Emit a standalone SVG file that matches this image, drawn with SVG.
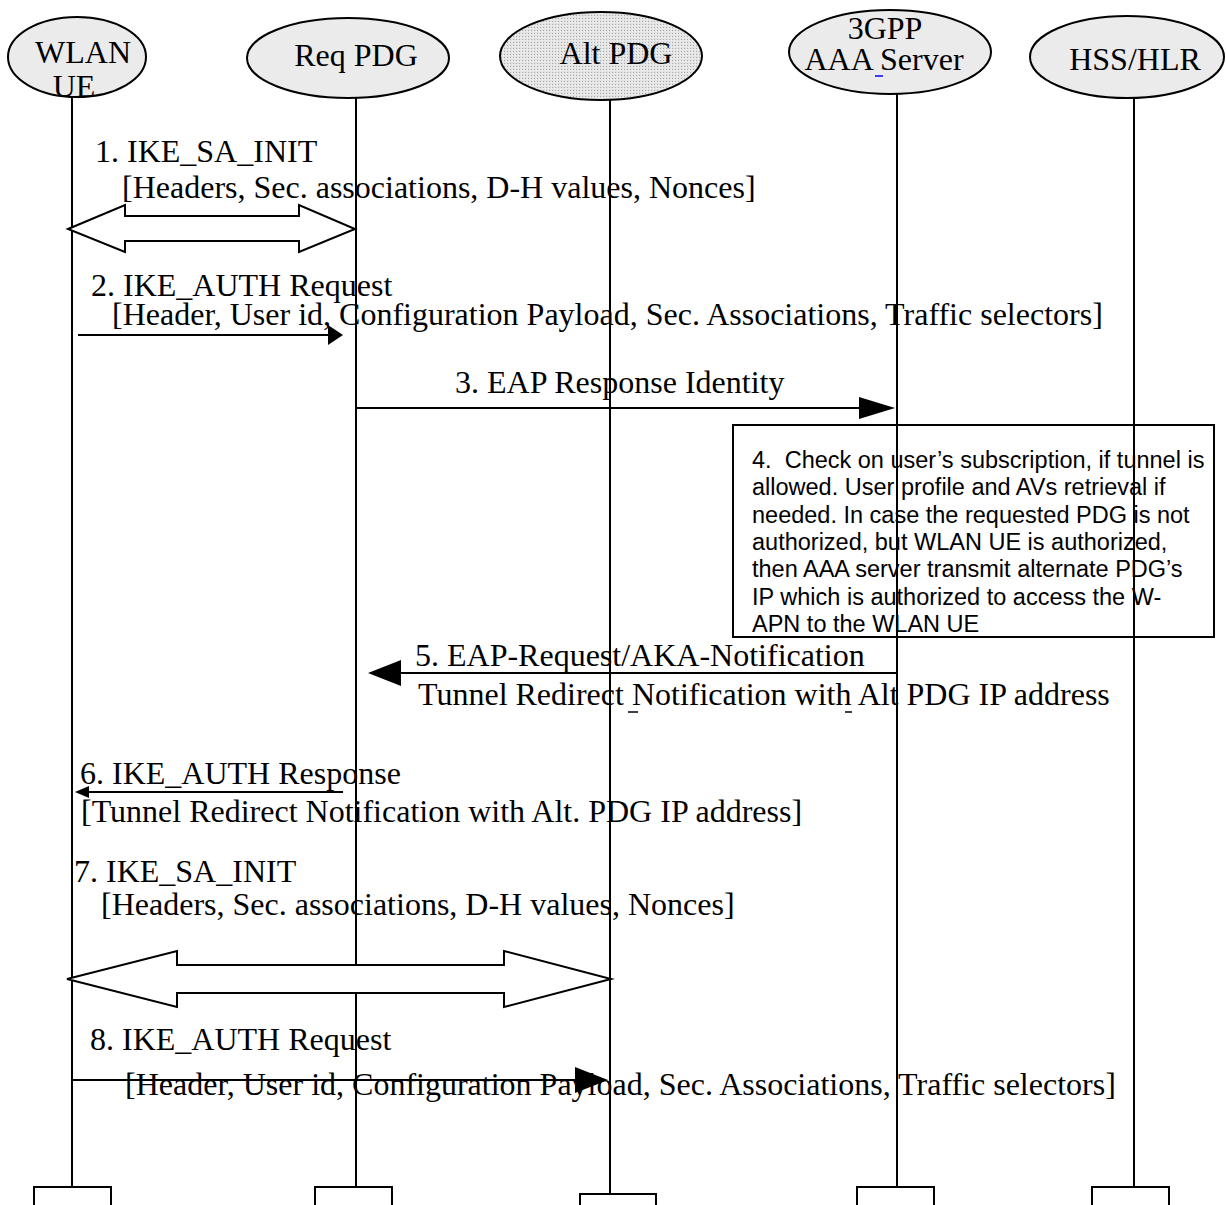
<svg xmlns="http://www.w3.org/2000/svg" width="1226" height="1205" viewBox="0 0 1226 1205">
<style>
.ent{fill:#ebebeb;stroke:#000;stroke-width:2}
.life{stroke:#000;stroke-width:2;fill:none}
.foot{fill:#fff;stroke:#000;stroke-width:2}
.t{font-family:"Liberation Serif","Times New Roman",serif;font-size:32px;fill:#000}
.n{font-family:"Liberation Sans",Arial,sans-serif;font-size:23.5px;fill:#000;white-space:pre}
.msg{stroke:#000;stroke-width:2;fill:none}
.head{fill:#000;stroke:none}
.dbl{fill:#fff;stroke:#000;stroke-width:2;stroke-linejoin:miter}
</style>
<defs>
<pattern id="dots" width="3" height="3" patternUnits="userSpaceOnUse">
<rect width="3" height="3" fill="#e4e4e4"/>
<rect width="1" height="1" fill="#a8a8a8"/>
<rect x="2" y="1" width="1" height="1" fill="#f4f4f4"/>
</pattern>
</defs>
<rect width="1226" height="1205" fill="#fff"/>

<g id="wlan-ue">
<line class="life" x1="72" y1="97" x2="72" y2="1187"/>
<rect class="foot" x="34" y="1187" width="77" height="25"/>
<ellipse class="ent" cx="77" cy="57" rx="69" ry="40"/>
<text class="t" x="83" y="63" text-anchor="middle">WLAN</text>
<text class="t" x="74" y="97" text-anchor="middle">UE</text>
</g>

<g id="req-pdg">
<line class="life" x1="356" y1="98" x2="356" y2="1187"/>
<rect class="foot" x="315" y="1187" width="77" height="25"/>
<ellipse class="ent" cx="348" cy="58" rx="101" ry="40"/>
<text class="t" x="356" y="66" text-anchor="middle">Req PDG</text>
</g>

<g id="alt-pdg">
<line class="life" x1="610" y1="100" x2="610" y2="1194"/>
<rect class="foot" x="580" y="1194" width="76" height="20"/>
<ellipse cx="601" cy="56" rx="101" ry="44" fill="url(#dots)" stroke="#000" stroke-width="2"/>
<text class="t" x="616" y="64" text-anchor="middle" fill="#333">Alt PDG</text>
</g>

<g id="aaa-server">
<line class="life" x1="897" y1="94" x2="897" y2="1187"/>
<rect class="foot" x="857" y="1187" width="77" height="25"/>
<ellipse class="ent" cx="890" cy="52" rx="101" ry="42"/>
<text class="t" x="885" y="39" text-anchor="middle">3GPP</text>
<text class="t" x="884" y="70" text-anchor="middle">AAA Server</text>
<line x1="875" y1="76" x2="883" y2="76" stroke="#0000ff" stroke-width="1.5"/>
</g>

<g id="hss-hlr">
<line class="life" x1="1134" y1="99" x2="1134" y2="1187"/>
<rect class="foot" x="1092" y="1187" width="77" height="25"/>
<ellipse class="ent" cx="1127" cy="57" rx="97" ry="41"/>
<text class="t" x="1135" y="70" text-anchor="middle">HSS/HLR</text>
</g>

<g id="note-4">
<rect x="733" y="425" width="481" height="212" fill="none" stroke="#000" stroke-width="2"/>
<text class="n" x="752" y="468" xml:space="preserve">4.  Check on user’s subscription, if tunnel is</text>
<text class="n" x="752" y="495">allowed. User profile and AVs retrieval if</text>
<text class="n" x="752" y="523">needed. In case the requested PDG is not</text>
<text class="n" x="752" y="550">authorized, but WLAN UE is authorized,</text>
<text class="n" x="752" y="577">then AAA server transmit alternate PDG’s</text>
<text class="n" x="752" y="605">IP which is authorized to access the W-</text>
<text class="n" x="752" y="632">APN to the WLAN UE</text>
</g>

<g id="connectors">
<polygon class="dbl" points="68,229 125,205 125,216 299,216 299,205 355,229 299,252 299,241 125,241 125,252"/>
<line class="msg" x1="78" y1="335" x2="330" y2="335"/>
<polygon class="head" points="343,335 328,325 328,345"/>
<line class="msg" x1="356" y1="408" x2="862" y2="408"/>
<polygon class="head" points="895,408 859,397 859,419"/>
<line class="msg" x1="897" y1="673" x2="398" y2="673"/>
<polygon class="head" points="368,673 401,660 401,686"/>
<line class="msg" x1="343" y1="792" x2="86" y2="792"/>
<polygon class="head" points="75,792 89,786 89,798"/>
<polygon class="dbl" points="67,979 177,951 177,965 504,965 504,951 611,979 504,1007 504,993 177,993 177,1007"/>
<line class="msg" x1="72" y1="1080" x2="578" y2="1080"/>
<polygon class="head" points="608,1080 575,1067 575,1093"/>
</g>

<g id="labels">
<text class="t" x="95" y="162">1. IKE_SA_INIT</text>
<text class="t" x="122" y="198">[Headers, Sec. associations, D-H values, Nonces]</text>
<text class="t" x="91" y="296">2. IKE_AUTH Request</text>
<text class="t" x="112" y="325">[Header, User id, Configuration Payload, Sec. Associations, Traffic selectors]</text>
<text class="t" x="455" y="393">3. EAP Response Identity</text>
<text class="t" x="415" y="666">5. EAP-Request/AKA-Notification</text>
<text class="t" x="418" y="705">Tunnel Redirect Notification with Alt PDG IP address</text>
<line x1="628" y1="712" x2="638" y2="712" stroke="#000" stroke-width="1.5"/>
<line x1="845" y1="712" x2="852" y2="712" stroke="#000" stroke-width="1.5"/>
<text class="t" x="80" y="784">6. IKE_AUTH Response</text>
<text class="t" x="81" y="822">[Tunnel Redirect Notification with Alt. PDG IP address]</text>
<text class="t" x="74" y="882">7. IKE_SA_INIT</text>
<text class="t" x="101" y="915">[Headers, Sec. associations, D-H values, Nonces]</text>
<text class="t" x="90" y="1050">8. IKE_AUTH Request</text>
<text class="t" x="125" y="1095">[Header, User id, Configuration Payload, Sec. Associations, Traffic selectors]</text>
</g>
</svg>
